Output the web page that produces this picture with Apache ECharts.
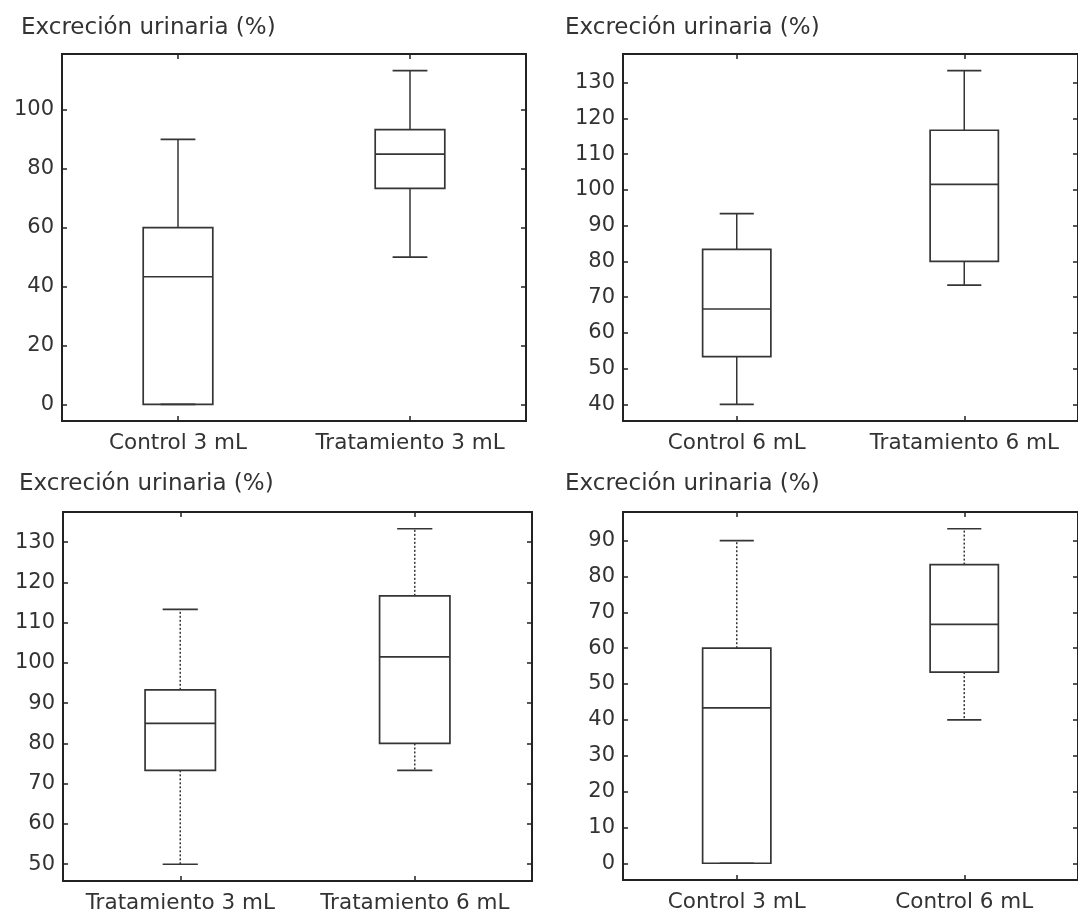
<!DOCTYPE html>
<html>
<head>
<meta charset="utf-8">
<script src="https://cdn.jsdelivr.net/npm/echarts@6/dist/echarts.min.js"></script>
<style>
html,body{margin:0;padding:0;background:#fff;}
#chart{width:1078px;height:916px;}
</style>
</head>
<body>
<div id="chart"></div>
<script>
// ---- data (min, Q1, median, Q3, max) ----
const ctrl3 = [0, 0, 43.33, 60, 90];
const trat3 = [50, 73.33, 85, 93.33, 113.33];
const ctrl6 = [40, 53.33, 66.67, 83.33, 93.33];
const trat6 = [73.33, 80, 101.5, 116.67, 133.33];

const cats1 = ['Control 3 mL', 'Tratamiento 3 mL'];
const cats2 = ['Control 6 mL', 'Tratamiento 6 mL'];
const cats3 = ['Tratamiento 3 mL', 'Tratamiento 6 mL'];
const cats4 = ['Control 3 mL', 'Control 6 mL'];

const ticks1 = [0, 20, 40, 60, 80, 100];
const ticks2 = [40, 50, 60, 70, 80, 90, 100, 110, 120, 130];
const ticks3 = [50, 60, 70, 80, 90, 100, 110, 120, 130];
const ticks4 = [0, 10, 20, 30, 40, 50, 60, 70, 80, 90];

const yTitle = 'Excreción urinaria (%)';

// ---- panels ----
const panels = [
  {cats: cats1, boxes: [ctrl3, trat3], ticks: ticks1, dotted: false,
   grid: {left: 62, top: 54, width: 464, height: 367}, title: {left: 21, top: 17}},
  {cats: cats2, boxes: [ctrl6, trat6], ticks: ticks2, dotted: false,
   grid: {left: 623, top: 54, width: 465, height: 367}, title: {left: 565, top: 17}},
  {cats: cats3, boxes: [trat3, trat6], ticks: ticks3, dotted: true,
   grid: {left: 63, top: 512, width: 469, height: 369}, title: {left: 19, top: 473}},
  {cats: cats4, boxes: [ctrl3, ctrl6], ticks: ticks4, dotted: true,
   grid: {left: 623, top: 512, width: 465, height: 368}, title: {left: 565, top: 473}}
];

const FONT = 'DejaVu Sans';
const TXT = '#333';
const LINE = '#353535';
const BOX_FRAC = 0.30;

function extent(boxes) {
  let lo = Infinity, hi = -Infinity;
  boxes.forEach(b => { lo = Math.min(lo, b[0]); hi = Math.max(hi, b[4]); });
  const pad = (hi - lo) * 0.05;
  return [lo - pad, hi + pad];
}

function makeRender(dotted) {
  return function (params, api) {
    const c = api.value(0);
    const vMin = api.value(1), q1 = api.value(2), med = api.value(3), q3 = api.value(4), vMax = api.value(5);
    const band = api.size([1, 0])[0];
    const bw = band * BOX_FRAC;
    const cw = bw / 2;
    const pMin = api.coord([c, vMin]);
    const pQ1 = api.coord([c, q1]);
    const pMed = api.coord([c, med]);
    const pQ3 = api.coord([c, q3]);
    const pMax = api.coord([c, vMax]);
    const x = pMed[0];
    const solid = {stroke: LINE, lineWidth: 1.7, fill: null};
    const wh = {stroke: LINE, lineWidth: 1.5, fill: null, lineDash: dotted ? [2, 2] : null};
    const children = [
      {type: 'line', shape: {x1: x, y1: pQ3[1], x2: x, y2: pMax[1]}, style: wh},
      {type: 'line', shape: {x1: x, y1: pQ1[1], x2: x, y2: pMin[1]}, style: wh},
      {type: 'line', shape: {x1: x - cw / 2, y1: pMax[1], x2: x + cw / 2, y2: pMax[1]}, style: solid},
      {type: 'line', shape: {x1: x - cw / 2, y1: pMin[1], x2: x + cw / 2, y2: pMin[1]}, style: solid},
      {type: 'rect', shape: {x: x - bw / 2, y: pQ3[1], width: bw, height: pQ1[1] - pQ3[1]}, style: solid},
      {type: 'line', shape: {x1: x - bw / 2, y1: pMed[1], x2: x + bw / 2, y2: pMed[1]}, style: solid}
    ];
    return {type: 'group', children: children};
  };
}

const option = {
  backgroundColor: '#fff',
  animation: false,
  title: [], grid: [], xAxis: [], yAxis: [], series: []
};

panels.forEach((p, i) => {
  const [ymin, ymax] = extent(p.boxes);
  option.title.push({
    text: yTitle, left: p.title.left, top: p.title.top, padding: 0,
    textStyle: {fontFamily: FONT, fontSize: 23, fontWeight: 'normal', color: TXT}
  });
  option.grid.push(Object.assign({show: true, borderColor: '#222', borderWidth: 2, backgroundColor: '#fff', containLabel: false}, p.grid));
  // bottom x axis
  option.xAxis.push({
    type: 'category', gridIndex: i, data: p.cats, position: 'bottom', boundaryGap: true,
    axisLine: {show: false, onZero: false},
    axisTick: {show: true, inside: true, alignWithLabel: true, length: 5, lineStyle: {color: '#222', width: 1.5}},
    axisLabel: {fontFamily: FONT, fontSize: 21.5, color: TXT, margin: 11, interval: 0},
    splitLine: {show: false}
  });
  // top x axis (ticks only)
  option.xAxis.push({
    type: 'category', gridIndex: i, data: p.cats, position: 'top', boundaryGap: true,
    axisLine: {show: false, onZero: false},
    axisTick: {show: true, inside: true, alignWithLabel: true, length: 5, lineStyle: {color: '#222', width: 1.5}},
    axisLabel: {show: false}, splitLine: {show: false}
  });
  // left y axis
  option.yAxis.push({
    type: 'value', gridIndex: i, min: ymin, max: ymax, position: 'left',
    axisLine: {show: false, onZero: false},
    axisTick: {show: true, inside: true, length: 5, customValues: p.ticks, lineStyle: {color: '#222', width: 1.5}},
    axisLabel: {fontFamily: FONT, fontSize: 21, color: TXT, margin: 8, customValues: p.ticks},
    splitLine: {show: false}
  });
  // right y axis (ticks only)
  option.yAxis.push({
    type: 'value', gridIndex: i, min: ymin, max: ymax, position: 'right',
    axisLine: {show: false, onZero: false},
    axisTick: {show: true, inside: true, length: 5, customValues: p.ticks, lineStyle: {color: '#222', width: 1.5}},
    axisLabel: {show: false}, splitLine: {show: false}
  });
  option.series.push({
    type: 'custom', name: 'panel' + (i + 1),
    xAxisIndex: i * 2, yAxisIndex: i * 2,
    renderItem: makeRender(p.dotted),
    encode: {x: 0, y: [1, 2, 3, 4, 5]},
    data: p.boxes.map((b, k) => [k].concat(b)),
    clip: false, silent: true
  });
});

const chart = echarts.init(document.getElementById('chart'), null, {renderer: 'canvas'});
chart.setOption(option);
</script>
</body>
</html>
